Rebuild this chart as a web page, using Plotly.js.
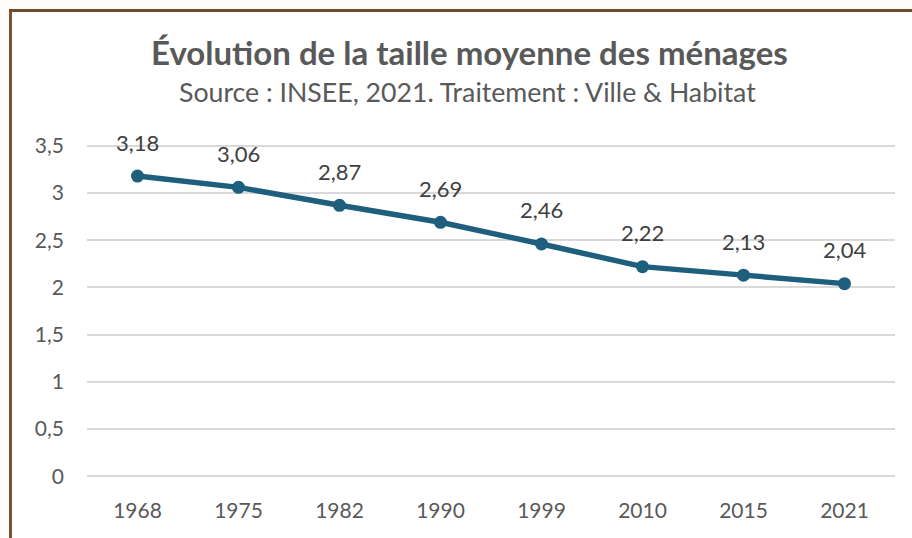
<!DOCTYPE html>
<html><head><meta charset="utf-8">
<script src="https://cdn.plot.ly/plotly-3.0.1.min.js"></script>
<style>
html,body{margin:0;padding:0;background:#fdfcf9;}
#frame{position:absolute;left:9px;top:9px;width:900px;height:529px;border-top:3px solid #6e4b2c;border-left:3px solid #7a5230;background:#ffffff;}
#chart{width:900px;height:526px;}
</style></head>
<body>
<div id="frame"><div id="chart"></div></div>
<script>
const years = ['1968','1975','1982','1990','1999','2010','2015','2021'];
const sizes = [3.18, 3.06, 2.87, 2.69, 2.46, 2.22, 2.13, 2.04];
const yTickVals = [0, 0.5, 1, 1.5, 2, 2.5, 3, 3.5];
const yTickText = ['0', '0,5', '1', '1,5', '2', '2,5', '3', '3,5'];
const titleText = 'Évolution de la taille moyenne des ménages';
const subtitleText = 'Source : INSEE, 2021. Traitement : Ville & Habitat';

const FONT = 'Lato, Noto Sans, sans-serif';
const lineColor = '#1d5f7c';

const labelAnns = sizes.map((v, i) => ({
  x: i, y: v, xref: 'x', yref: 'y',
  text: v.toFixed(2).replace('.', ','),
  showarrow: false, yshift: 34,
  font: {family: FONT, size: 22, color: '#404040'}
}));

const layout = {
  width: 900, height: 526,
  margin: {l: 75, r: 17, t: 131, b: 59},
  paper_bgcolor: '#ffffff', plot_bgcolor: '#ffffff',
  separators: ',.',
  showlegend: false,
  font: {family: FONT, color: '#595959', size: 21},
  xaxis: {
    type: 'category', showgrid: false, zeroline: false, showline: false,
    ticks: '', ticklabelstandoff: 17,
    tickfont: {family: FONT, size: 21, color: '#595959'},
    range: [-0.5, 7.5], fixedrange: true
  },
  yaxis: {
    range: [-0.03, 3.53], tickvals: yTickVals, ticktext: yTickText,
    showgrid: true, gridcolor: '#d9d9d9', gridwidth: 2,
    zeroline: false, showline: false, ticks: '', ticklabelstandoff: 22,
    tickfont: {family: FONT, size: 21, color: '#595959'},
    fixedrange: true
  },
  annotations: [
    {text: '<b>' + titleText + '</b>', xref: 'paper', yref: 'paper', x: 0.474, y: 1.271,
     xanchor: 'center', yanchor: 'middle', showarrow: false,
     font: {family: FONT, size: 33, color: '#595959'}},
    {text: subtitleText, xref: 'paper', yref: 'paper', x: 0.4715, y: 1.152,
     xanchor: 'center', yanchor: 'middle', showarrow: false,
     font: {family: FONT, size: 26.7, color: '#595959'}}
  ].concat(labelAnns)
};

const trace = {
  x: years, y: sizes, type: 'scatter', mode: 'lines+markers',
  line: {color: lineColor, width: 5.5},
  marker: {color: lineColor, size: 13},
  hoverinfo: 'skip'
};

Plotly.newPlot('chart', [trace], layout, {displayModeBar: false, staticPlot: true});
</script>
</body></html>
